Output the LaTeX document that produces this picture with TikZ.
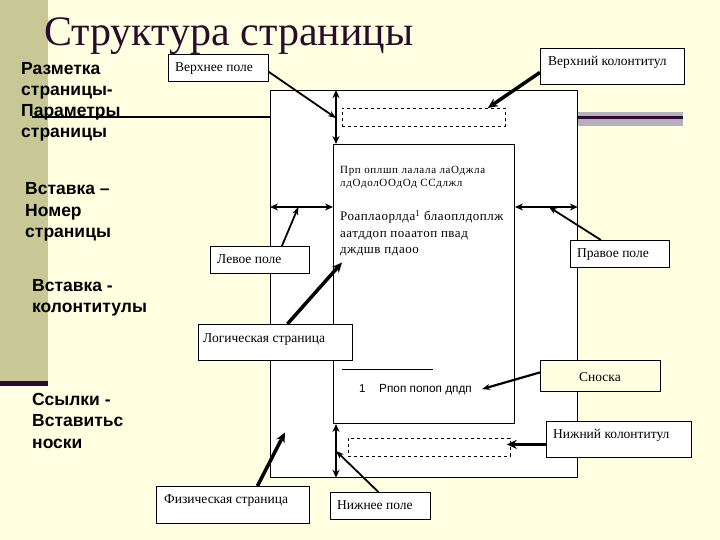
\documentclass[tikz,border=0pt]{standalone}
\usepackage{fontspec}
\setmainfont{Liberation Serif}
\newfontfamily\lsans{Liberation Sans}
\usetikzlibrary{arrows.meta,calc}
\definecolor{bg}{HTML}{FFFFE1}
\definecolor{bar}{HTML}{C8C896}
\definecolor{darkp}{HTML}{2E0A30}
\definecolor{grayband}{HTML}{B5B0BE}
\definecolor{titlec}{HTML}{2B0D2B}
\begin{document}
\begin{tikzpicture}[x=1pt,y=-1pt,
  box/.style={draw=black, line width=0.8pt, fill=white, inner sep=0pt, anchor=north west},
  lbl/.style={font=\fontsize{13.5}{15}\selectfont, anchor=base west, inner sep=0pt},
  lefttxt/.style={anchor=base west, inner sep=0pt},
  thinarr/.style={line width=1.8pt, -{Stealth[length=8pt,width=6pt]}},
  thickarr/.style={line width=3.5pt, -{Stealth[length=10pt,width=9pt]}},
  marginarr/.style={line width=2.4pt, {Stealth[length=8pt,width=7pt]}-{Stealth[length=8pt,width=7pt]}},
]
\fill[bg] (0,0) rectangle (720,540);
\useasboundingbox (0,0) rectangle (720,540);
% template decorations
\fill[bar] (0,0) rectangle (48,381);
\fill[darkp] (0,381) rectangle (48,386);
\fill[grayband] (577,112) rectangle (683,126);
\draw[darkp, line width=3pt] (577,117.5) -- (683,117.5);
\draw[black, line width=2pt] (32,117.5) -- (272,117.5);
% title
\node[anchor=base west, inner sep=0pt, text=titlec, font=\fontsize{42}{46}\selectfont] (title) at (44,46) {Структура страницы};
% left texts
\node[lefttxt] (t1) at (21,75) {\parbox[t]{150pt}{\lsans\bfseries\fontsize{17.5}{21}\selectfont Разметка\\страницы-\\Параметры\\страницы}};
\node[lefttxt] (t2) at (25,195) {\parbox[t]{150pt}{\lsans\bfseries\fontsize{17.5}{21.5}\selectfont Вставка –\\Номер\\страницы}};
\node[lefttxt] (t3) at (32,291) {\parbox[t]{150pt}{\lsans\bfseries\fontsize{17.5}{21}\selectfont Вставка -\\колонтитулы}};
\node[lefttxt] (t4) at (32,405) {\parbox[t]{150pt}{\lsans\bfseries\fontsize{17.5}{21.5}\selectfont Ссылки -\\Вставитьс\\носки}};
% pages
\node[box, line width=0.8pt, minimum width=307pt, minimum height=387pt] (phys) at (270,90) {};
\node[box, line width=1pt, minimum width=181pt, minimum height=279pt] (logi) at (333,144) {};
\node[box, dashed, line width=0.8pt, minimum width=163pt, minimum height=18pt] (hd) at (342,108) {};
\node[box, dashed, line width=0.8pt, minimum width=162pt, minimum height=18pt] (ft) at (348,438) {};
% inner text
\node[lefttxt] (in1) at (340,174) {\parbox[t]{175pt}{\fontsize{11}{13}\selectfont\addfontfeature{LetterSpace=6}Прп оплшп лалала лаОджла\\лдОдолООдОд ССдлжл}};
\node[lefttxt] (in2) at (340,221) {\parbox[t]{180pt}{\fontsize{13}{16.5}\selectfont\addfontfeature{LetterSpace=4}Роаплаорлда\textsuperscript{1} блаоплдоплж\\аатддоп поаатоп пвад\\дждшв пдаоо}};
\coordinate (sepL) at (342,369.5);
\coordinate (sepR) at (433,369.5);
\draw[line width=0.6pt] (sepL) -- (sepR);
\node[lefttxt, font=\lsans\fontsize{11.5}{13}\selectfont] (fnn) at (359,392) {1};
\node[lefttxt, font=\lsans\fontsize{11.8}{13}\selectfont] (fnt) at (379,392) {Рпоп попоп дпдп};
% margin arrows
\coordinate (tm1) at ($(logi.north west)+(3,0)$);
\coordinate (lm) at (0,207);
\draw[marginarr] (tm1 |- phys.north) -- (tm1);
\draw[marginarr] (tm1 |- logi.south) -- (tm1 |- phys.south);
\draw[marginarr] (phys.west |- lm) -- (logi.west |- lm);
\draw[marginarr] (logi.east |- lm) -- (phys.east |- lm);
% label boxes
\node[box, minimum width=100pt, minimum height=27pt] (vp) at (168,54) {};
\node[lbl] (vpt) at (175,72) {Верхнее поле};
\node[box, minimum width=144pt, minimum height=36pt] (vk) at (540,48) {};
\node[lbl] (vkt) at (548,66) {Верхний колонтитул};
\node[box, minimum width=99pt, minimum height=27pt] (lp) at (210,246) {};
\node[lbl] (lpt) at (217,263.5) {Левое поле};
\node[box, minimum width=99pt, minimum height=27pt] (pp) at (570,240) {};
\node[lbl] (ppt) at (577,258) {Правое поле};
\node[box, minimum width=154pt, minimum height=36pt] (lg) at (198,324) {};
\node[lbl] (lgt) at (203,342) {Логическая страница};
\node[box, fill=bg, minimum width=120pt, minimum height=31pt] (sn) at (540,360) {};
\node[lbl, anchor=base] (snt) at (600,381) {Сноска};
\node[box, minimum width=145pt, minimum height=36pt] (nk) at (546,421) {};
\node[lbl] (nkt) at (553,438) {Нижний колонтитул};
\node[box, minimum width=153pt, minimum height=37pt] (fs) at (156,486) {};
\node[lbl] (fst) at (164,503) {Физическая страница};
\node[box, minimum width=100pt, minimum height=27pt] (np) at (330,492) {};
\node[lbl] (npt) at (337,509) {Нижнее поле};
% connectors
\draw[thinarr] ($(vp.east)+(0,4)$) -- ($(tm1 |- phys.north)!0.52!(tm1)$);
\draw[thickarr] ($(vk.west)+(0,6)$) -- ($(hd.north east)+(-18,0)$);
\draw[thinarr] ($(lp.north)+(22,0)$) -- ($(phys.west |- lm)!0.45!(logi.west |- lm)$);
\draw[thinarr] ($(pp.north)+(-19,0)$) -- ($(logi.east |- lm)!0.54!(phys.east |- lm)$);
\draw[thickarr] ($(lg.north)+(12,0)$) -- ($(logi.west)+(9,-21.5)$);
\draw[thinarr, line width=2.2pt] ($(sn.west)+(0,-3.5)$) -- ($(fnt.east)+(10,0)$);
\draw[thickarr] ($(nk.west)+(0,5)$) -- ($(ft.east)+(-4,-3)$);
\draw[thickarr] ($(fs.north)+(24.5,0)$) -- ($(phys.west)+(15,148.5)$);
\draw[thinarr] ($(np.north)+(-2,0)$) -- ($(tm1 |- logi.south)!0.5!(tm1 |- phys.south)$);
\end{tikzpicture}
\end{document}
